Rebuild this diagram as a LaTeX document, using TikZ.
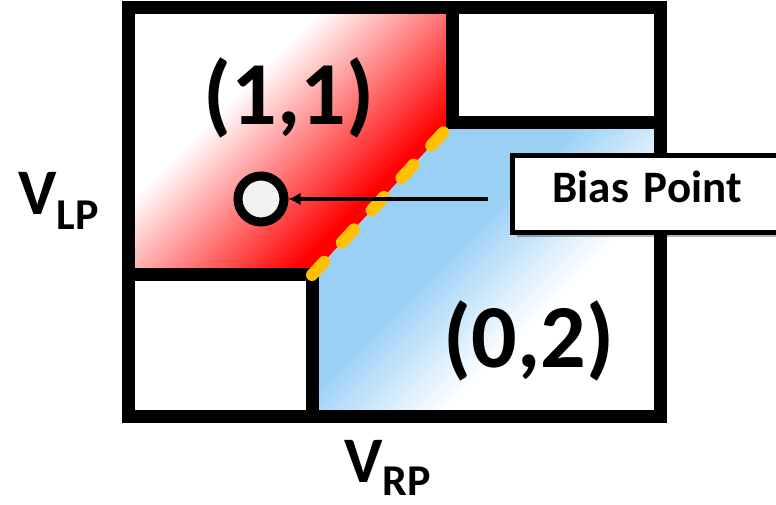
\documentclass[tikz,border=0pt]{standalone}
\usepackage{fontspec}
\setmainfont{Carlito}
\usetikzlibrary{arrows.meta,positioning,shadows}

\definecolor{stateblue}{RGB}{155,208,245}
\definecolor{lineyellow}{RGB}{255,192,0}
\definecolor{pointgray}{RGB}{242,242,242}

\pgfdeclarehorizontalshading{redfade}{100bp}{color(0bp)=(white); color(38bp)=(white); color(66bp)=(red); color(100bp)=(red)}
\pgfdeclarehorizontalshading{bluefade}{100bp}{color(0bp)=(stateblue); color(44bp)=(stateblue); color(61bp)=(white); color(100bp)=(white)}

\begin{document}
\begin{tikzpicture}[
  x=0.5bp, y=-0.5bp,
  wall/.style={line width=6.5bp, line join=miter},
  edge/.style={line width=6bp, lineyellow, line cap=round, dash pattern=on 9bp off 13bp},
  state/.style={font=\fontsize{45bp}{54bp}\selectfont\bfseries, inner sep=0pt},
  gate/.style={font=\fontsize{32.5bp}{36bp}\selectfont\bfseries, inner sep=0pt, anchor=base west},
  point/.style={circle, draw, line width=4.5bp, fill=pointgray, minimum size=23bp, inner sep=0pt},
  callout/.style={draw, line width=2.5bp, fill=white, anchor=west, align=left, text width=110bp, inner xsep=20bp, inner ysep=0pt,
    minimum height=38.5bp, text height=14bp, text depth=5bp, font=\fontsize{22.5bp}{27bp}\selectfont\bfseries,
    drop shadow={shadow xshift=2bp, shadow yshift=-2.5bp, fill=black, opacity=0.3}},
  arr/.style={-{Latex[length=6bp, width=6.5bp]}, line width=2bp}
]
\useasboundingbox (0,0) rectangle (776,505);
\shade[shading=redfade, shading angle=-45] (128,8) -- (452,8) -- (452,123) -- (312,275) -- (128,275) -- cycle;
\shade[shading=bluefade, shading angle=-45] (452,123) -- (660,123) -- (660,417) -- (312,417) -- (312,275) -- cycle;
\draw[wall] (128,8) rectangle (660,417);
\draw[wall] (452,8) -- (452,123) -- (660,123);
\draw[wall] (128,275) -- (312,275) -- (312,417);
\draw[edge] (312,275) -- (452,123);
\node[state] (s11) at (289,98) {(1,1)};
\node[state] (s02) at (529,341) {(0,2)};
\node[gate] (vlp) at (18,215) {V\raisebox{-7.5bp}{\fontsize{22bp}{24bp}\selectfont LP}};
\node[gate] (vrp) at (344,482) {V\raisebox{-6.5bp}{\fontsize{22bp}{24bp}\selectfont RP}};
\node[point] (bias) at (261,199) {};
\node[callout] (label) at (510,194) {Bias Point};
\coordinate (tail) at (488,199);
\draw[arr] (tail) -- (bias);
\end{tikzpicture}
\end{document}
